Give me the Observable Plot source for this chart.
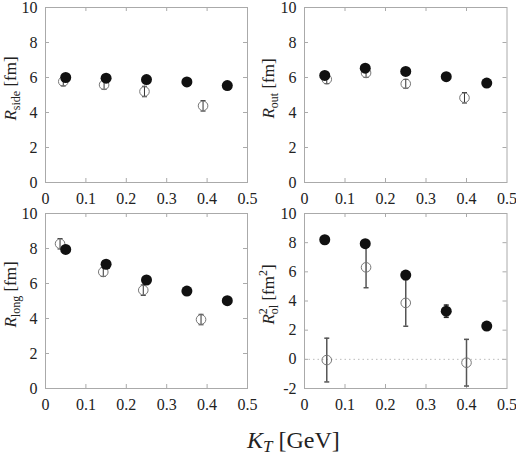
<!DOCTYPE html>
<html><head><meta charset="utf-8">
<script src="https://cdn.jsdelivr.net/npm/d3@7"></script>
<script src="https://cdn.jsdelivr.net/npm/@observablehq/plot@0.6"></script>
<style>
body{margin:0;background:#fff;}
#wrap{position:relative;width:516px;height:457px;font-family:"Liberation Serif","Times New Roman",serif;color:#222;}
#wrap svg{position:absolute;}
#wrap svg text, #wrap svg g{font-family:"Liberation Serif","Times New Roman",serif !important;}
#xt{position:absolute;left:247px;top:428px;font-size:24px;line-height:24px;white-space:nowrap;}
#xt sub{font-size:17px;line-height:0;vertical-align:-4px;}
</style></head><body><div id="wrap"><div id="xt"><i>K</i><sub><i>T</i></sub> [GeV]</div></div>
<script>
// tick values
const xTicks = [0, 0.1, 0.2, 0.3, 0.4, 0.5];
const yTicksR = [0, 2, 4, 6, 8, 10];
const yTicksOl = [-2, 0, 2, 4, 6, 8, 10];

// filled points (same KT bins for all panels)
const kTFilled = [0.05, 0.15, 0.25, 0.35, 0.45];
const sideFilled = [6.0, 5.96, 5.88, 5.75, 5.54];
const outFilled = [6.12, 6.53, 6.35, 6.05, 5.68];
const longFilled = [7.95, 7.1, 6.2, 5.57, 5.02];
const olFilled = [8.2, 7.93, 5.78, 3.3, 2.28];
const olFilledErr = [0.12, 0.15, 0.2, 0.42, 0.12];

// open points
const sideOpenX = [0.044, 0.145, 0.245, 0.39];
const sideOpen = [5.77, 5.58, 5.2, 4.38];
const sideOpenErr = [0.25, 0.25, 0.3, 0.3];

const outOpenX = [0.055, 0.152, 0.25, 0.395];
const outOpen = [5.9, 6.26, 5.64, 4.84];
const outOpenErr = [0.25, 0.25, 0.25, 0.3];

const longOpenX = [0.036, 0.143, 0.242, 0.385];
const longOpen = [8.27, 6.66, 5.62, 3.94];
const longOpenErr = [0.3, 0.25, 0.3, 0.3];

const olOpenX = [0.055, 0.152, 0.25, 0.40];
const olOpen = [-0.05, 6.31, 3.87, -0.23];
const olOpenErr = [1.5, 1.4, 1.6, 1.6];

const FONT = "Liberation Serif, Times New Roman, serif";
const capSymbol = {draw(ctx) { ctx.moveTo(-2.5, 0); ctx.lineTo(2.5, 0); }};

function rows(xs, ys, es) { return xs.map((x, i) => ({x, y: ys[i], e: es ? es[i] : 0})); }

function panel({left, top, mL, mR, yDomain, yTicks, filled, open, label, zero, barColor, barWidth}) {
  const W = 258, H = 212, mT = 7, mB = 30;
  const innerH = H - mT - mB, innerW = W - mL - mR;
  const marks = [];
  if (zero) marks.push(Plot.ruleY([0], {stroke: "#bbb", strokeDasharray: "1.5,3", strokeWidth: 1}));
  marks.push(
    Plot.frame({stroke: "#aaa"}),
    Plot.ruleX(xTicks.slice(1, -1), {x: d => d, stroke: "#aaa", insetTop: innerH - 4}),
    Plot.ruleX(xTicks.slice(1, -1), {x: d => d, stroke: "#aaa", insetBottom: innerH - 4}),
    Plot.ruleY(yTicks.slice(1, -1), {y: d => d, stroke: "#aaa", insetRight: innerW - 4}),
    Plot.ruleY(yTicks.slice(1, -1), {y: d => d, stroke: "#aaa", insetLeft: innerW - 4}),
    Plot.axisX(xTicks, {tickSize: 0, tickPadding: 10, fontSize: 16, fontFamily: FONT, label: null, tickFormat: d => String(d), fill: "#222"}),
    Plot.axisY(yTicks, {tickSize: 0, tickPadding: 8, fontSize: 16, fontFamily: FONT, label: null, tickFormat: d => String(d), fill: "#222"}),
    // open series error bars
    Plot.ruleX(open, {x: "x", y1: d => d.y - d.e, y2: d => d.y + d.e, stroke: barColor, strokeWidth: barWidth}),
    Plot.dot(open, {x: "x", y: d => d.y - d.e, symbol: capSymbol, stroke: barColor, fill: "none", strokeWidth: barWidth}),
    Plot.dot(open, {x: "x", y: d => d.y + d.e, symbol: capSymbol, stroke: barColor, fill: "none", strokeWidth: barWidth}),
    Plot.dot(open, {x: "x", y: "y", r: 4.8, stroke: "#777", fill: "none", strokeWidth: 1}),
    // filled series
    Plot.ruleX(filled, {x: "x", y1: d => d.y - d.e, y2: d => d.y + d.e, stroke: "#222", strokeWidth: 1.5}),
    Plot.dot(filled, {x: "x", y: d => d.y - d.e, symbol: capSymbol, stroke: "#222", fill: "none", strokeWidth: 1.5}),
    Plot.dot(filled, {x: "x", y: d => d.y + d.e, symbol: capSymbol, stroke: "#222", fill: "none", strokeWidth: 1.5}),
    Plot.dot(filled, {x: "x", y: "y", r: 5.5, fill: "#111", stroke: "none"})
  );
  const svg = Plot.plot({
    width: W, height: H,
    marginLeft: mL, marginRight: mR, marginTop: mT, marginBottom: mB,
    x: {domain: [0, 0.5], label: null},
    y: {domain: yDomain, label: null},
    style: {fontFamily: FONT, background: "transparent", overflow: "visible"},
    marks
  });
  svg.style.left = left + "px";
  svg.style.top = top + "px";
  const t = d3.select(svg).append("text")
    .attr("transform", `translate(16,${mT + innerH / 2 - 6}) rotate(-90)`)
    .attr("text-anchor", "middle")
    .attr("font-size", 17)
    .attr("font-family", FONT)
    .attr("fill", "#222");
  label(t);
  document.getElementById("wrap").appendChild(svg);
}

function simpleLabel(sub) {
  return t => {
    t.append("tspan").attr("font-style", "italic").text("R");
    t.append("tspan").attr("font-size", 12).attr("dy", 4).text(sub);
    t.append("tspan").attr("dy", -4).text(" [fm]");
  };
}

panel({left: 0, top: 0, mL: 45, mR: 11, yDomain: [0, 10], yTicks: yTicksR,
  filled: rows(kTFilled, sideFilled), open: rows(sideOpenX, sideOpen, sideOpenErr),
  label: simpleLabel("side"), barColor: "#333", barWidth: 1});
panel({left: 258, top: 0, mL: 46, mR: 9.5, yDomain: [0, 10], yTicks: yTicksR,
  filled: rows(kTFilled, outFilled), open: rows(outOpenX, outOpen, outOpenErr),
  label: simpleLabel("out"), barColor: "#333", barWidth: 1});
panel({left: 0, top: 206, mL: 45, mR: 11, yDomain: [0, 10], yTicks: yTicksR,
  filled: rows(kTFilled, longFilled), open: rows(longOpenX, longOpen, longOpenErr),
  label: simpleLabel("long"), barColor: "#333", barWidth: 1});
panel({left: 258, top: 206, mL: 46, mR: 9.5, yDomain: [-2, 10], yTicks: yTicksOl,
  filled: rows(kTFilled, olFilled, olFilledErr), open: rows(olOpenX, olOpen, olOpenErr),
  zero: true, barColor: "#555", barWidth: 1.5,
  label: t => {
    t.append("tspan").attr("font-style", "italic").text("R");
    t.append("tspan").attr("font-size", 12).attr("dy", -7).text("2");
    t.append("tspan").attr("font-size", 12).attr("dx", -6).attr("dy", 11).text("ol");
    t.append("tspan").attr("dy", -4).text(" [fm");
    t.append("tspan").attr("font-size", 12).attr("dy", -7).text("2");
    t.append("tspan").attr("dy", 7).text("]");
  }});
</script>
</body></html>
